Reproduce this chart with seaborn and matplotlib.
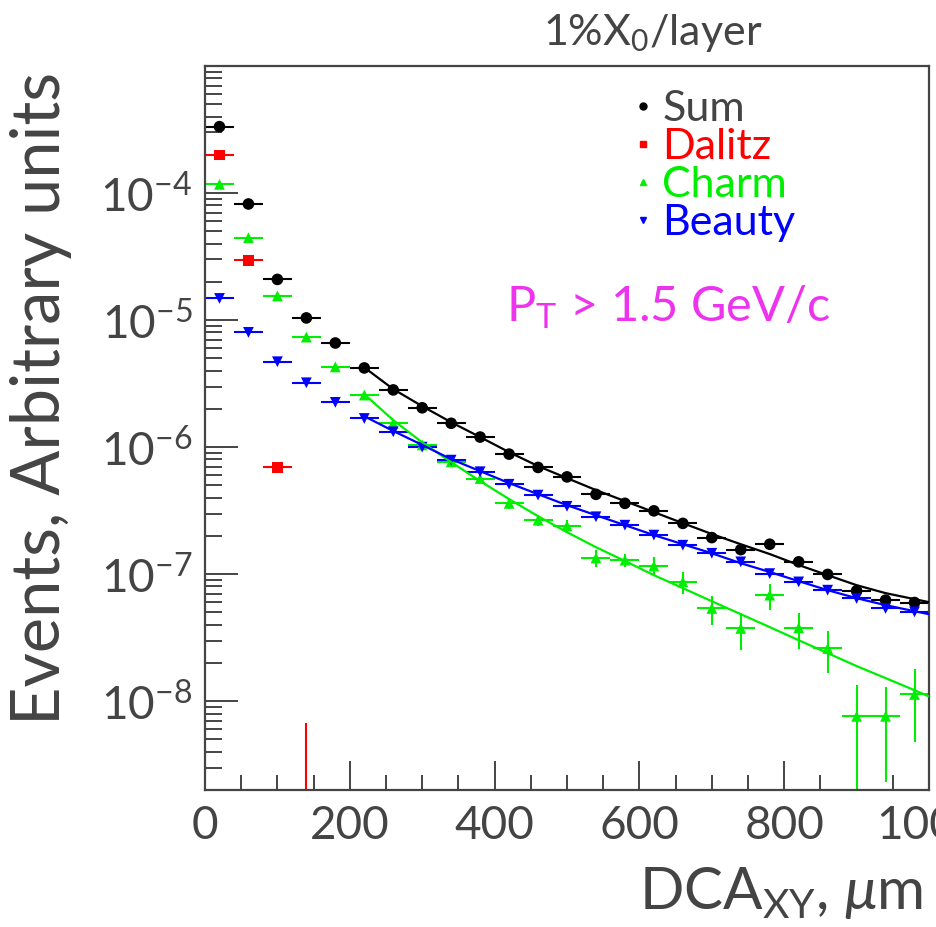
import numpy as np
import pandas as pd
import seaborn as sns
import matplotlib
matplotlib.use("Agg")
import matplotlib.pyplot as plt
from matplotlib.lines import Line2D
from matplotlib.ticker import FixedLocator, LogLocator, NullFormatter, FixedFormatter

# DCA_xy bin centres (um) and half bin width
dca_bins = [20, 60, 100, 140, 180, 220, 260, 300, 340, 380, 420, 460, 500,
            540, 580, 620, 660, 700, 740, 780, 820, 860, 900, 940, 980]
half_width = 20

sum_vals = [3.33e-4, 8.2e-5, 2.09e-5, 1.04e-5, 6.6e-6, 4.2e-6, 2.82e-6, 2.04e-6,
            1.54e-6, 1.20e-6, 8.81e-7, 6.92e-7, 5.83e-7, 4.25e-7, 3.61e-7, 3.15e-7,
            2.51e-7, 1.94e-7, 1.56e-7, 1.72e-7, 1.25e-7, 9.95e-8, 7.40e-8, 6.24e-8, 5.98e-8]
sum_err = [1.0e-5, 2.5e-6, 6e-7, 3e-7, 2e-7, 1.2e-7, 8e-8, 6e-8, 4.5e-8, 3.5e-8,
           2.7e-8, 2.1e-8, 1.8e-8, 1.4e-8, 1.2e-8, 1.0e-8, 8.5e-9, 7e-9, 6e-9,
           6.5e-9, 5e-9, 4.2e-9, 3.4e-9, 3e-9, 2.9e-9]

dalitz_bins = [20, 60, 100, 140]
dalitz_vals = [1.99e-4, 2.96e-5, 6.92e-7, 1.2e-9]
dalitz_err = [5e-6, 9e-7, 6e-8, 5.5e-9]

charm_vals = [1.17e-4, 4.45e-5, 1.55e-5, 7.35e-6, 4.28e-6, 2.57e-6, 1.54e-6, 1.04e-6,
              7.66e-7, 5.66e-7, 3.61e-7, 2.66e-7, 2.40e-7, 1.34e-7, 1.29e-7, 1.16e-7,
              8.70e-8, 5.37e-8, 3.74e-8, 6.84e-8, 3.78e-8, 2.60e-8, 7.6e-9, 7.6e-9, 1.13e-8]
charm_err = [4e-6, 2e-6, 8e-7, 4e-7, 2.5e-7, 1.6e-7, 1e-7, 7e-8, 5.5e-8, 4.5e-8,
             3.3e-8, 2.7e-8, 2.6e-8, 2.0e-8, 1.5e-8, 2.0e-8, 1.7e-8, 1.4e-8, 1.2e-8,
             1.6e-8, 1.2e-8, 9.4e-9, 5.7e-9, 5.3e-9, 6.5e-9]

beauty_vals = [1.48e-5, 8.0e-6, 4.70e-6, 3.21e-6, 2.25e-6, 1.68e-6, 1.32e-6, 1.00e-6,
               7.9e-7, 6.40e-7, 5.1e-7, 4.19e-7, 3.42e-7, 2.83e-7, 2.43e-7, 2.03e-7,
               1.69e-7, 1.46e-7, 1.25e-7, 1.01e-7, 8.69e-8, 7.48e-8, 6.44e-8, 5.37e-8, 5.05e-8]
beauty_err = [5e-7, 2.8e-7, 1.6e-7, 1.1e-7, 8e-8, 6e-8, 4.6e-8, 3.5e-8, 2.8e-8, 2.2e-8,
              1.8e-8, 1.5e-8, 1.2e-8, 1.0e-8, 8.5e-9, 7e-9, 6e-9, 5.2e-9, 4.5e-9,
              3.7e-9, 3.2e-9, 2.8e-9, 2.4e-9, 2.1e-9, 2.0e-9]

# fitted curves
fit_x = [220, 260, 300, 340, 380, 420, 460, 500, 540, 580, 620, 660, 700, 740,
         780, 820, 860, 900, 940, 980, 1000]
sum_fit = [4.24e-6, 2.86e-6, 2.10e-6, 1.57e-6, 1.20e-6, 9.13e-7, 7.09e-7, 5.70e-7,
           4.59e-7, 3.76e-7, 3.08e-7, 2.52e-7, 2.07e-7, 1.72e-7, 1.44e-7, 1.18e-7,
           9.82e-8, 8.19e-8, 7.09e-8, 6.36e-8, 6.02e-8]
charm_fit = [2.61e-6, 1.63e-6, 1.09e-6, 7.62e-7, 5.40e-7, 3.90e-7, 2.86e-7, 2.14e-7,
             1.63e-7, 1.27e-7, 9.82e-8, 7.76e-8, 6.12e-8, 4.84e-8, 3.83e-8, 3.02e-8,
             2.39e-8, 1.89e-8, 1.52e-8, 1.22e-8, 1.09e-8]
beauty_fit = [1.75e-6, 1.34e-6, 1.04e-6, 8.04e-7, 6.47e-7, 5.21e-7, 4.26e-7, 3.49e-7,
              2.91e-7, 2.43e-7, 2.03e-7, 1.72e-7, 1.46e-7, 1.22e-7, 1.04e-7, 8.81e-8,
              7.48e-8, 6.47e-8, 5.70e-8, 5.11e-8, 4.84e-8]

x_ticks = [0, 200, 400, 600, 800, 1000]
x_ticklabels = ["0", "200", "400", "600", "800", "1000"]
y_ticks = [1e-8, 1e-7, 1e-6, 1e-5, 1e-4]
y_ticklabels = [r"$10^{-8}$", r"$10^{-7}$", r"$10^{-6}$", r"$10^{-5}$", r"$10^{-4}$"]

series_labels = ["Sum", "Dalitz", "Charm", "Beauty"]
series_colors = ["#000000", "#ff0000", "#00ee00", "#0000ff"]
series_markers = ["o", "s", "^", "v"]

sns.set_theme(style="ticks")
plt.rcParams["font.family"] = ["Lato", "DejaVu Sans"]
plt.rcParams["font.weight"] = "normal"
plt.rcParams["mathtext.fontset"] = "custom"
plt.rcParams["mathtext.rm"] = "Lato"
plt.rcParams["mathtext.it"] = "Lato:italic"
plt.rcParams["mathtext.bf"] = "Lato:bold"
plt.rcParams["axes.unicode_minus"] = True

text_color = "#444444"

fig = plt.figure(figsize=(9.37, 9.27), dpi=100)
fig.patch.set_facecolor("white")
ax = fig.add_axes([205 / 937, 1 - 790 / 927, 724 / 937, 724 / 927])
ax.set_facecolor("white")
ax.set_yscale("log")

# data points with bin-width and statistical error bars
data_sets = [
    (dca_bins, sum_vals, sum_err),
    (dalitz_bins, dalitz_vals, dalitz_err),
    (dca_bins, charm_vals, charm_err),
    (dca_bins, beauty_vals, beauty_err),
]
for (xs, ys, es), col, mk in zip(data_sets, series_colors, series_markers):
    ax.errorbar(xs, ys, xerr=half_width, yerr=es, fmt="none", ecolor=col,
                elinewidth=1.5, capsize=0, zorder=2)
    df = pd.DataFrame({"dca": xs, "events": ys})
    size = 70 if mk == "o" else 60
    sns.scatterplot(data=df, x="dca", y="events", marker=mk, color=col, s=size,
                    edgecolor="none", linewidth=0, legend=False, ax=ax, zorder=3)

# fit curves
for fy, col in zip([sum_fit, charm_fit, beauty_fit],
                   [series_colors[0], series_colors[2], series_colors[3]]):
    sns.lineplot(x=fit_x, y=fy, color=col, linewidth=1.6, ax=ax, zorder=4,
                 estimator=None, sort=False)

ax.set_xlim(0, 1000)
ax.set_ylim(2e-9, 1e-3)

ax.xaxis.set_major_locator(FixedLocator(x_ticks))
ax.xaxis.set_major_formatter(FixedFormatter(x_ticklabels))
ax.xaxis.set_minor_locator(FixedLocator(np.arange(0, 1001, 50)))
ax.yaxis.set_major_locator(FixedLocator(y_ticks))
ax.yaxis.set_major_formatter(FixedFormatter(y_ticklabels))
ax.yaxis.set_minor_locator(LogLocator(base=10, subs=np.arange(2, 10), numticks=20))
ax.yaxis.set_minor_formatter(NullFormatter())

ax.tick_params(axis="both", which="both", direction="in", top=False, right=False,
               colors=text_color, width=1.4, labelsize=33)
ax.tick_params(axis="x", which="major", length=21, pad=11)
ax.tick_params(axis="x", which="minor", length=11)
ax.tick_params(axis="y", which="major", length=24, pad=9)
ax.tick_params(axis="y", which="minor", length=12)
for sp in ax.spines.values():
    sp.set_color(text_color)
    sp.set_linewidth(1.6)

ax.set_xlabel(r"DCA$_{\mathrm{XY}}$, $\mu$m", fontsize=42, color=text_color)
ax.xaxis.label.set(ha="right", va="center")
ax.xaxis.set_label_coords((923 - 205) / 724, -(893 - 790) / 724)
ax.set_ylabel("Events, Arbitrary units", fontsize=48, color=text_color)
ax.yaxis.label.set(rotation_mode="anchor", ha="right", va="center")
ax.yaxis.set_label_coords((41 - 205) / 724, (790 - 72) / 724)

fig.text(653 / 937, 1 - 33 / 927, r"1%X$_0$/layer", fontsize=31, color=text_color,
         ha="center", va="center")
ax.text((668 - 205) / 724, (790 - 307) / 724, r"P$_\mathrm{T}$ > 1.5 GeV/c",
        transform=ax.transAxes, fontsize=35, color="#ee33ee", ha="center", va="center")

handles = [Line2D([], [], ls="none", marker=m, color=c, markersize=5)
           for m, c in zip(series_markers, series_colors)]
leg = ax.legend(handles, series_labels, loc="upper left",
                bbox_to_anchor=((632 - 205) / 724, (790 - 90) / 724),
                frameon=False, fontsize=31, handlelength=0.5, handletextpad=0.2,
                labelspacing=0.0, borderpad=0, borderaxespad=0)
for txt, c in zip(leg.get_texts(), series_colors):
    txt.set_color(c if c != "#000000" else text_color)

fig.savefig("out.png", dpi=100, facecolor="white")
